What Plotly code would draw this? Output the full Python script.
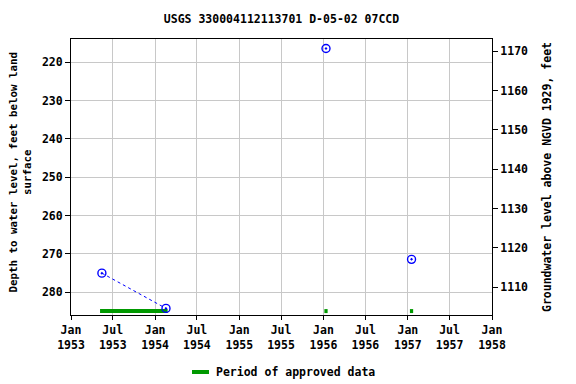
import plotly.graph_objects as go

# Measurements (depth below land surface, ft)
seg1_dates = ["1953-05-15", "1954-02-17"]
seg1_depth = [275.0, 284.2]
single_dates = ["1956-01-12", "1957-01-17"]
single_depth = [216.4, 271.4]

# Approved-data periods (start, end)
approved_periods = [("1953-05-07", "1954-02-24"),
                    ("1956-01-05", "1956-01-19"),
                    ("1957-01-10", "1957-01-24")]
approved_level = 284.9

tick_dates = ["1953-01-01", "1953-07-01", "1954-01-01", "1954-07-01", "1955-01-01",
              "1955-07-01", "1956-01-01", "1956-07-01", "1957-01-01", "1957-07-01",
              "1958-01-01"]
tick_text = ["Jan<br>1953", "Jul<br>1953", "Jan<br>1954", "Jul<br>1954", "Jan<br>1955",
             "Jul<br>1955", "Jan<br>1956", "Jul<br>1956", "Jan<br>1957", "Jul<br>1957",
             "Jan<br>1958"]

FONT = "DejaVu Sans Mono"
BLUE = "#0000ff"
GREEN = "#009900"
FS = 11.5

# page is rendered with an 8px body margin; figure is sized to fit
W, H = 568, 376
L, T, PW, PH = 63, 31, 421, 276

fig = go.Figure()

for s, e in approved_periods:
    fig.add_trace(go.Scatter(
        x=[s, e], y=[approved_level, approved_level], mode="lines",
        line=dict(color=GREEN, width=4),
        name="Period of approved data", showlegend=False,
        hoverinfo="skip"))

fig.add_trace(go.Scatter(
    x=seg1_dates, y=seg1_depth, mode="lines+markers",
    line=dict(color=BLUE, width=1, dash="dot"),
    marker=dict(symbol="circle-open-dot", size=8, color=BLUE, line=dict(width=1.4)),
    showlegend=False))
fig.add_trace(go.Scatter(
    x=single_dates, y=single_depth, mode="markers",
    marker=dict(symbol="circle-open-dot", size=8, color=BLUE, line=dict(width=1.4)),
    showlegend=False))

# invisible trace on right axis
fig.add_trace(go.Scatter(x=["1953-01-01"], y=[1140], yaxis="y2", mode="markers",
                         marker=dict(opacity=0), showlegend=False, hoverinfo="skip"))

leg_y = (T + PH - 364) / PH
fig.add_shape(type="line", xref="paper", yref="paper",
              x0=(184 - L) / PW, x1=(201 - L) / PW, y0=leg_y, y1=leg_y,
              line=dict(color=GREEN, width=4))
fig.add_annotation(text="Period of approved data", xref="paper", yref="paper",
                   x=(206 - L) / PW, y=leg_y, xanchor="left", yanchor="middle",
                   showarrow=False, font=dict(size=FS))

fig.add_annotation(text="Depth to water level, feet below land<br>surface",
                   xref="paper", yref="paper", x=0, y=0.5, xanchor="center",
                   yanchor="middle", xshift=11.5 - L, yshift=5, textangle=-90,
                   showarrow=False, font=dict(size=10.8))

fig.update_layout(
    width=W, height=H,
    margin=dict(l=L, r=W - L - PW, t=T, b=H - T - PH, autoexpand=False),
    paper_bgcolor="white", plot_bgcolor="white",
    font=dict(family=FONT, size=FS, color="black", weight="bold"),
    title=dict(text="USGS 330004112113701 D-05-02 07CCD", x=0.5, xref="paper",
               xanchor="center", y=1 - 11 / H, yanchor="middle",
               font=dict(family=FONT, size=FS, weight="bold")),
    xaxis=dict(type="date", range=["1953-01-01", "1958-01-01"], automargin=False,
               tickvals=tick_dates, ticktext=tick_text,
               showgrid=True, gridcolor="#c8c8c8", gridwidth=1,
               showline=True, linecolor="black", linewidth=1, mirror=True,
               ticks="outside", ticklen=4, tickcolor="black", zeroline=False),
    yaxis=dict(range=[285.92, 213.92], tickvals=[220, 230, 240, 250, 260, 270, 280],
               automargin=False,
               showgrid=True, gridcolor="#c8c8c8", gridwidth=1,
               showline=True, linecolor="black", linewidth=1, mirror=True,
               ticks="outside", ticklen=5, tickcolor="black", zeroline=False),
    yaxis2=dict(overlaying="y", side="right", range=[1102.96, 1173.1], automargin=False,
                tickvals=[1110, 1120, 1130, 1140, 1150, 1160, 1170],
                showgrid=False, showline=False, zeroline=False,
                ticks="outside", ticklen=5, tickcolor="black",
                title=dict(text="Groundwater level above NGVD 1929, feet",
                           standoff=15, font=dict(size=FS))),
    showlegend=False,
)

fig.write_html("out.html")
